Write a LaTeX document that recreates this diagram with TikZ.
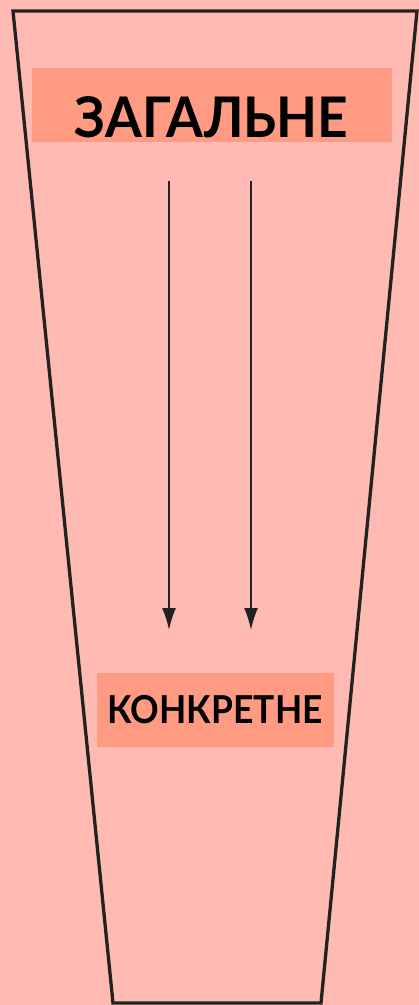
\documentclass[tikz,border=0pt]{standalone}
\usepackage{fontspec}
\setmainfont{Lato}
\usetikzlibrary{arrows.meta}
\definecolor{bgpink}{HTML}{FFBBB3}
\definecolor{boxsalmon}{HTML}{FF9B83}
\definecolor{lineink}{HTML}{222222}
\tikzset{
  labelbox/.style={fill=boxsalmon, inner sep=0pt},
  labeltext/.style={inner sep=0pt, anchor=base, text=black, transform shape},
  flowarrow/.style={draw=lineink, line width=1.6pt, -{Latex[length=22pt,width=14pt]}},
}
\begin{document}
\begin{tikzpicture}[x=1pt,y=-1pt]
\useasboundingbox (0,0) rectangle (419,1005);
\fill[bgpink] (0,0) rectangle (419,1005);
\draw[lineink, line width=3.3pt, line join=miter] (13,11) -- (417,11) -- (321,1003) -- (113,1003) -- cycle;
\node[labelbox, minimum width=360pt, minimum height=74pt] (generalbox) at (211.5,105) {};
\node[labeltext, xscale=0.95, font=\fontsize{56}{60}\selectfont\bfseries] (general) at (211.5,137) {ЗАГАЛЬНЕ};
\node[labelbox, minimum width=237pt, minimum height=74pt] (concretebox) at (215.5,710) {};
\node[labeltext, xscale=0.92, font=\fontsize{38.5}{42}\selectfont\bfseries] (concrete) at (215,723) {КОНКРЕТНЕ};
\coordinate (a1s) at (169,181);
\coordinate (a1e) at (169,630);
\coordinate (a2s) at (251,181);
\coordinate (a2e) at (251,630);
\draw[flowarrow] (a1s) -- (a1e);
\draw[flowarrow] (a2s) -- (a2e);
\end{tikzpicture}
\end{document}
